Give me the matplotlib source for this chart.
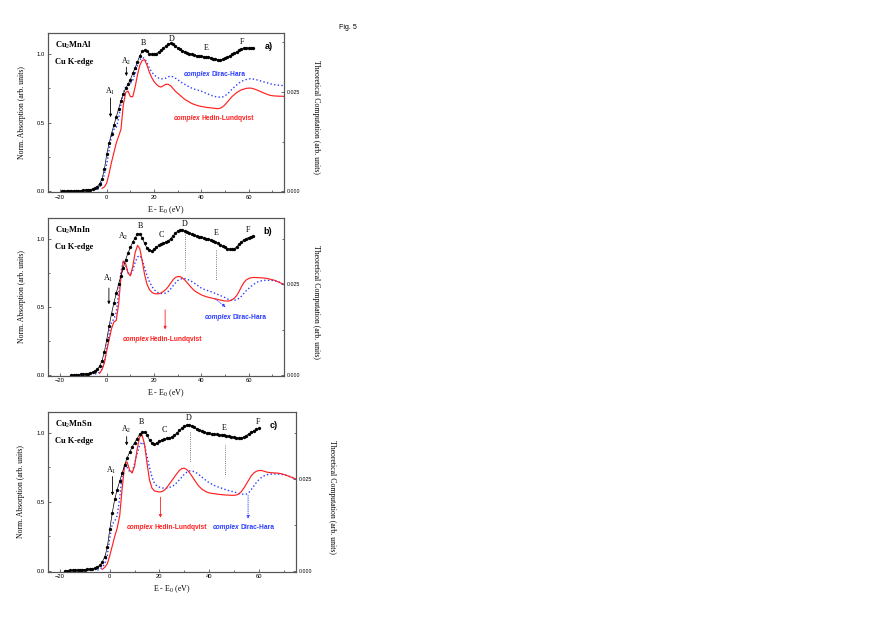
import numpy as np
import matplotlib
matplotlib.use('Agg')
import matplotlib.pyplot as plt
from matplotlib.ticker import MultipleLocator, FormatStrFormatter

plt.rcParams['font.family'] = 'Liberation Sans'
plt.rcParams['mathtext.fontset'] = 'custom'
plt.rcParams['mathtext.rm'] = 'Liberation Serif'
plt.rcParams['mathtext.it'] = 'Liberation Serif:italic'
plt.rcParams['mathtext.bf'] = 'Liberation Serif:bold'

#%% Data (energy grids in 1 eV steps)
# panel a) Cu2MnAl
exp_a_start = -19
exp_a = [0.0, 0.0, 0.0, 0.001, 0.001, 0.002, 0.002, 0.003, 0.004, 0.005, 0.006, 0.008,
         0.011, 0.015, 0.022, 0.033, 0.055, 0.09, 0.16,
         0.27, 0.35, 0.42, 0.48, 0.54, 0.60, 0.66, 0.71, 0.75, 0.78, 0.815, 0.86, 0.90,
         0.945, 0.99, 1.02, 1.03,
         1.02, 1.005, 1.0, 1.0, 1.005, 1.015, 1.03, 1.045, 1.06, 1.075, 1.08, 1.075, 1.06,
         1.045, 1.035, 1.025, 1.018, 1.01, 1.005, 1.0, 0.995, 0.99, 0.988, 0.985, 0.983,
         0.98, 0.977, 0.973, 0.968, 0.963, 0.96, 0.96, 0.963, 0.97, 0.978, 0.988, 0.998,
         1.008, 1.018, 1.028, 1.036, 1.042, 1.045, 1.045, 1.045, 1.047]
hl_a_start = -2
hl_a = [0.02, 0.03, 0.06, 0.13, 0.21, 0.28, 0.35, 0.40, 0.45, 0.63, 0.72, 0.73, 0.69, 0.69,
        0.76, 0.85, 0.92, 0.955, 0.96, 0.92, 0.87, 0.83, 0.80, 0.78, 0.765, 0.76, 0.77, 0.78,
        0.78, 0.77, 0.75, 0.73, 0.715, 0.70, 0.685, 0.67, 0.66, 0.65, 0.64, 0.633, 0.627,
        0.622, 0.618, 0.615, 0.612, 0.61, 0.608, 0.606, 0.604, 0.602, 0.605, 0.615, 0.63,
        0.65, 0.67, 0.69, 0.705, 0.72, 0.73, 0.74, 0.745, 0.75, 0.752, 0.752, 0.748, 0.742,
        0.735, 0.728, 0.72, 0.713, 0.706, 0.70, 0.697, 0.695, 0.694, 0.693, 0.693, 0.692]
dh_a_start = -4
dh_a = [0.01, 0.03, 0.07, 0.12, 0.20, 0.30, 0.40, 0.45, 0.46, 0.53, 0.63, 0.72, 0.76, 0.775,
        0.785, 0.81, 0.86, 0.92, 0.96, 0.975, 0.97, 0.94, 0.90, 0.87, 0.85, 0.835, 0.825,
        0.82, 0.82, 0.825, 0.835, 0.84, 0.835, 0.825, 0.815, 0.80, 0.79, 0.78, 0.77, 0.76,
        0.752, 0.745, 0.74, 0.735, 0.73, 0.722, 0.715, 0.708, 0.70, 0.695, 0.69, 0.687,
        0.686, 0.688, 0.695, 0.71, 0.725, 0.745, 0.76, 0.775, 0.79, 0.80, 0.81, 0.815, 0.82,
        0.82, 0.818, 0.815, 0.81, 0.805, 0.80, 0.795, 0.79, 0.785, 0.78, 0.777, 0.775, 0.773,
        0.772, 0.77]

# panel b) Cu2MnIn
exp_b_start = -15
exp_b = [0.0, 0.0, 0.001, 0.002, 0.003, 0.004, 0.006, 0.008,
         0.012, 0.018, 0.026, 0.04, 0.065, 0.105, 0.17,
         0.26, 0.36, 0.45, 0.53, 0.60, 0.67, 0.73, 0.79, 0.85, 0.90, 0.94, 0.98, 1.01, 1.04,
         1.04, 1.01, 0.97, 0.935, 0.92, 0.915, 0.925, 0.94, 0.955, 0.965, 0.972, 0.98, 0.99,
         1.005, 1.025, 1.045, 1.06, 1.07, 1.07, 1.063, 1.053, 1.045, 1.037, 1.03, 1.025,
         1.02, 1.015, 1.01, 1.005, 1.0, 0.995, 0.988, 0.98, 0.97, 0.96, 0.95, 0.94, 0.932,
         0.926, 0.925, 0.93, 0.945, 0.962, 0.98, 0.995, 1.005, 1.013, 1.02, 1.025]
hl_b_start = -3
hl_b = [0.01, 0.04, 0.09, 0.18, 0.26, 0.34, 0.39, 0.40, 0.52, 0.72, 0.84, 0.82, 0.75, 0.73,
        0.80, 0.90, 0.955, 0.93, 0.84, 0.74, 0.67, 0.63, 0.61, 0.60, 0.597, 0.598, 0.605,
        0.615, 0.63, 0.65, 0.675, 0.70, 0.718, 0.725, 0.725, 0.715, 0.70, 0.68, 0.66, 0.64,
        0.622, 0.61, 0.60, 0.59, 0.583, 0.577, 0.572, 0.568, 0.564, 0.56, 0.556, 0.552,
        0.548, 0.545, 0.544, 0.546, 0.553, 0.565, 0.585, 0.615, 0.65, 0.68, 0.70, 0.71,
        0.716, 0.718, 0.718, 0.717, 0.716, 0.715, 0.713, 0.71, 0.706, 0.702, 0.697, 0.69,
        0.682, 0.674, 0.665]
dh_b_start = -5
dh_b = [0.005, 0.01, 0.02, 0.04, 0.09, 0.20, 0.30, 0.39, 0.41, 0.46, 0.60, 0.76, 0.84, 0.81,
        0.755, 0.74, 0.77, 0.83, 0.87, 0.88, 0.85, 0.79, 0.735, 0.69, 0.655, 0.63, 0.613,
        0.603, 0.60, 0.60, 0.603, 0.615, 0.633, 0.655, 0.677, 0.695, 0.705, 0.71, 0.71,
        0.705, 0.697, 0.688, 0.677, 0.665, 0.652, 0.64, 0.632, 0.625, 0.62, 0.614, 0.607,
        0.60, 0.593, 0.585, 0.578, 0.57, 0.56, 0.553, 0.55, 0.55, 0.553, 0.565, 0.58, 0.60,
        0.62, 0.635, 0.652, 0.665, 0.677, 0.686, 0.692, 0.695, 0.697, 0.697, 0.697, 0.696,
        0.694, 0.69, 0.684, 0.676, 0.667]

# panel c) Cu2MnSn
exp_c_start = -18
exp_c = [0.0, 0.001, 0.002, 0.003, 0.004, 0.005, 0.006, 0.007, 0.008, 0.01,
         0.012, 0.015, 0.02, 0.028, 0.04, 0.065, 0.10, 0.17,
         0.30, 0.42, 0.52, 0.59, 0.65, 0.71, 0.77, 0.82, 0.86, 0.90, 0.93, 0.96, 0.99, 1.005,
         1.01, 0.985, 0.95, 0.925, 0.92, 0.93, 0.94, 0.95, 0.958, 0.963, 0.967, 0.972, 0.985,
         1.0, 1.02, 1.035, 1.05, 1.058, 1.06, 1.053, 1.043, 1.032, 1.022, 1.015, 1.008, 1.002,
         0.998, 0.995, 0.993, 0.99, 0.988, 0.986, 0.984, 0.982, 0.978, 0.974, 0.97, 0.966,
         0.964, 0.965, 0.97, 0.982, 0.995, 1.005, 1.017, 1.027, 1.035]
hl_c_start = -3
hl_c = [0.01, 0.025, 0.05, 0.11, 0.18, 0.25, 0.31, 0.40, 0.60, 0.77, 0.79, 0.73, 0.71, 0.76,
        0.88, 0.97, 0.985, 0.92, 0.78, 0.66, 0.60, 0.58, 0.575, 0.572, 0.575, 0.585, 0.605,
        0.63, 0.655, 0.68, 0.705, 0.728, 0.742, 0.745, 0.735, 0.715, 0.69, 0.662, 0.635,
        0.612, 0.595, 0.582, 0.572, 0.566, 0.562, 0.56, 0.557, 0.555, 0.553, 0.551, 0.55,
        0.549, 0.548, 0.548, 0.55, 0.558, 0.575, 0.60, 0.63, 0.66, 0.69, 0.71, 0.722, 0.728,
        0.728, 0.724, 0.718, 0.714, 0.712, 0.711, 0.71, 0.708, 0.705, 0.70, 0.694, 0.687,
        0.68, 0.673, 0.666]
dh_c_start = -5
dh_c = [0.005, 0.01, 0.025, 0.05, 0.11, 0.24, 0.34, 0.36, 0.40, 0.53, 0.69, 0.765, 0.75,
        0.72, 0.72, 0.78, 0.85, 0.91, 0.935, 0.91, 0.83, 0.75, 0.68, 0.635, 0.615, 0.607,
        0.602, 0.60, 0.601, 0.605, 0.612, 0.622, 0.64, 0.66, 0.68, 0.70, 0.715, 0.725, 0.724,
        0.72, 0.71, 0.697, 0.682, 0.667, 0.652, 0.64, 0.63, 0.62, 0.613, 0.606, 0.60, 0.593,
        0.587, 0.582, 0.577, 0.572, 0.567, 0.562, 0.557, 0.555, 0.557, 0.567, 0.59, 0.615,
        0.64, 0.66, 0.676, 0.688, 0.696, 0.70, 0.702, 0.703, 0.703, 0.702, 0.70, 0.697,
        0.693, 0.687, 0.681, 0.675, 0.668]

compounds = ['Cu$_2$MnAl', 'Cu$_2$MnIn', 'Cu$_2$MnSn']
panel_tags = ['a)', 'b)', 'c)']
tag_x = [0.92, 0.915, 0.893]
# 0.025 on the right axis sits at this left-axis value
right_scale = [0.724, 0.667, 0.665]

RED = '#ff2020'
BLUE = '#2a3cff'
SPINE = '#555555'


def egrid(start, vals):
    return np.arange(start, start + len(vals))


def draw_panel(ax, exp, hl, dh, name, tag, tx, scale):
    ax.plot(egrid(*dh), dh[1], ls=':', color=BLUE, lw=1.0, zorder=2)
    ax.plot(egrid(*hl), hl[1], ls='-', color=RED, lw=0.85, zorder=2)
    ax.plot(egrid(*exp), exp[1], '-o', color='k', lw=0.5, ms=2.4, mew=0, zorder=3)

    ax.set_xlim(-25, 75)
    ax.set_ylim(-0.007, 1.155)
    ax.xaxis.set_major_locator(MultipleLocator(20))
    ax.xaxis.set_minor_locator(MultipleLocator(10))
    ax.yaxis.set_major_locator(MultipleLocator(0.5))
    ax.yaxis.set_minor_locator(MultipleLocator(0.25))
    ax.yaxis.set_major_formatter(FormatStrFormatter('%.1f'))
    ax.tick_params(which='both', direction='in', labelsize=4.2, width=0.6,
                   colors=SPINE, labelcolor='k', top=False, right=False, pad=2)
    ax.tick_params(which='major', length=2.5)
    ax.tick_params(which='minor', length=1.5)
    for s in ax.spines.values():
        s.set_color(SPINE)
        s.set_linewidth(0.8)

    ax.set_xlabel('E - E$_0$ (eV)', family='Liberation Serif', fontsize=5.8, labelpad=3)
    ax.set_ylabel('Norm. Absorption (arb. units)', family='Liberation Serif',
                  fontsize=5.6)
    ax.yaxis.set_label_coords(-0.092, 0.5)

    ax2 = ax.twinx()
    lo, hi = ax.get_ylim()
    k = 0.025 / scale
    ax2.set_ylim(lo * k, hi * k)
    ax2.yaxis.set_major_locator(MultipleLocator(0.025))
    ax2.yaxis.set_minor_locator(MultipleLocator(0.0125))
    ax2.yaxis.set_major_formatter(FormatStrFormatter('%.3f'))
    ax2.tick_params(which='both', direction='in', labelsize=3.8, width=0.6,
                    colors=SPINE, labelcolor='k', pad=2)
    ax2.tick_params(which='major', length=2.5)
    ax2.tick_params(which='minor', length=1.5)
    for s in ax2.spines.values():
        s.set_color(SPINE)
        s.set_linewidth(0.8)
    ax2.set_ylabel('Theoretical Computation (arb. units)', family='Liberation Serif',
                   fontsize=5.6, rotation=-90, va='bottom')

    ax.text(0.03, 0.92, name, transform=ax.transAxes, family='Liberation Serif',
            weight='bold', fontsize=6, va='center')
    ax.text(0.03, 0.82, 'Cu K-edge', transform=ax.transAxes, family='Liberation Serif',
            weight='bold', fontsize=6, va='center')
    ax.text(tx, 0.915, tag, transform=ax.transAxes, weight='bold', fontsize=6.5,
            va='center')
    return ax2


def letters(ax, items):
    for lbl, x, y in items:
        ax.text(x, y, lbl, family='Liberation Serif', fontsize=5.8,
                ha='center', va='center')


def arrow(ax, x, y0, y1, color='k', ls='-'):
    ax.annotate('', xy=(x, y1), xytext=(x, y0),
                arrowprops=dict(arrowstyle='-|>', color=color, lw=0.6, ls=ls,
                                mutation_scale=4, shrinkA=0, shrinkB=0))


def vline(ax, x, y0, y1):
    ax.plot([x, x], [y0, y1], ls=':', color='0.3', lw=0.6)


def theory_label(ax, x, y, name, color):
    # x is where the italic "complex" ends and the method name starts
    ax.annotate('complex', (x, y), xytext=(-0.1, 0), textcoords='offset points',
                color=color, style='italic', weight='bold', fontsize=4.8,
                ha='right', va='center')
    ax.annotate(name, (x, y), xytext=(0.4, 0), textcoords='offset points',
                color=color, weight='bold', fontsize=4.8, ha='left', va='center')


#%% Figure
fig = plt.figure(figsize=(8.77, 6.2), dpi=100)
ax_a = fig.add_axes([0.0544, 0.6903, 0.2694, 0.2565])
ax_b = fig.add_axes([0.0544, 0.3940, 0.2694, 0.2539])
ax_c = fig.add_axes([0.0544, 0.0779, 0.2831, 0.2580])

r_a = draw_panel(ax_a, (exp_a_start, exp_a), (hl_a_start, hl_a), (dh_a_start, dh_a),
                 compounds[0], panel_tags[0], tag_x[0], right_scale[0])
r_b = draw_panel(ax_b, (exp_b_start, exp_b), (hl_b_start, hl_b), (dh_b_start, dh_b),
                 compounds[1], panel_tags[1], tag_x[1], right_scale[1])
r_c = draw_panel(ax_c, (exp_c_start, exp_c), (hl_c_start, hl_c), (dh_c_start, dh_c),
                 compounds[2], panel_tags[2], tag_x[2], right_scale[2])
r_a.yaxis.set_label_coords(1.118, 0.47)
r_b.yaxis.set_label_coords(1.117, 0.47)
r_c.yaxis.set_label_coords(1.13, 0.47)

# panel a annotations
letters(ax_a, [('B', 15.4, 1.085), ('D', 27.5, 1.11), ('E', 42.2, 1.045),
               ('F', 57.1, 1.088), ('A$_2$', 8.0, 0.95), ('A$_1$', 1.6, 0.726)])
arrow(ax_a, 8.3, 0.905, 0.84)
arrow(ax_a, 1.6, 0.68, 0.54)
theory_label(ax_a, 44.1, 0.85, 'Dirac-Hara', BLUE)
theory_label(ax_a, 39.8, 0.53, 'Hedin-Lundqvist', RED)

# panel b annotations
letters(ax_b, [('B', 14.1, 1.10), ('C', 23.0, 1.03), ('D', 32.9, 1.11),
               ('E', 46.5, 1.05), ('F', 60.0, 1.07), ('A$_2$', 7.0, 1.02),
               ('A$_1$', 0.5, 0.71)])
arrow(ax_b, 0.9, 0.64, 0.52)
vline(ax_b, 33.0, 1.055, 0.775)
vline(ax_b, 46.2, 0.92, 0.70)
arrow(ax_b, 24.7, 0.48, 0.335, color=RED)
ax_b.annotate('', xy=(50.3, 0.50), xytext=(45.9, 0.56),
              arrowprops=dict(arrowstyle='-|>', color=BLUE, lw=0.6, ls=':',
                              mutation_scale=4, shrinkA=0, shrinkB=0))
theory_label(ax_b, 18.0, 0.26, 'Hedin-Lundqvist', RED)
theory_label(ax_b, 52.9, 0.42, 'Dirac-Hara', BLUE)

# panel c annotations
letters(ax_c, [('B', 12.8, 1.08), ('C', 22.1, 1.02), ('D', 31.8, 1.11),
               ('E', 46.2, 1.04), ('F', 59.7, 1.08), ('A$_2$', 6.5, 1.03),
               ('A$_1$', 0.4, 0.73)])
arrow(ax_c, 6.8, 0.975, 0.91)
arrow(ax_c, 1.1, 0.684, 0.547)
vline(ax_c, 32.4, 1.005, 0.79)
vline(ax_c, 46.5, 0.915, 0.685)
arrow(ax_c, 20.4, 0.535, 0.386, color=RED)
arrow(ax_c, 55.7, 0.547, 0.378, color=BLUE, ls=':')
theory_label(ax_c, 17.6, 0.314, 'Hedin-Lundqvist', RED)
theory_label(ax_c, 52.4, 0.314, 'Dirac-Hara', BLUE)

fig.text(0.397, 0.955, 'Fig. 5', fontsize=5, ha='center', va='center')

fig.savefig('out.png', dpi=100)
